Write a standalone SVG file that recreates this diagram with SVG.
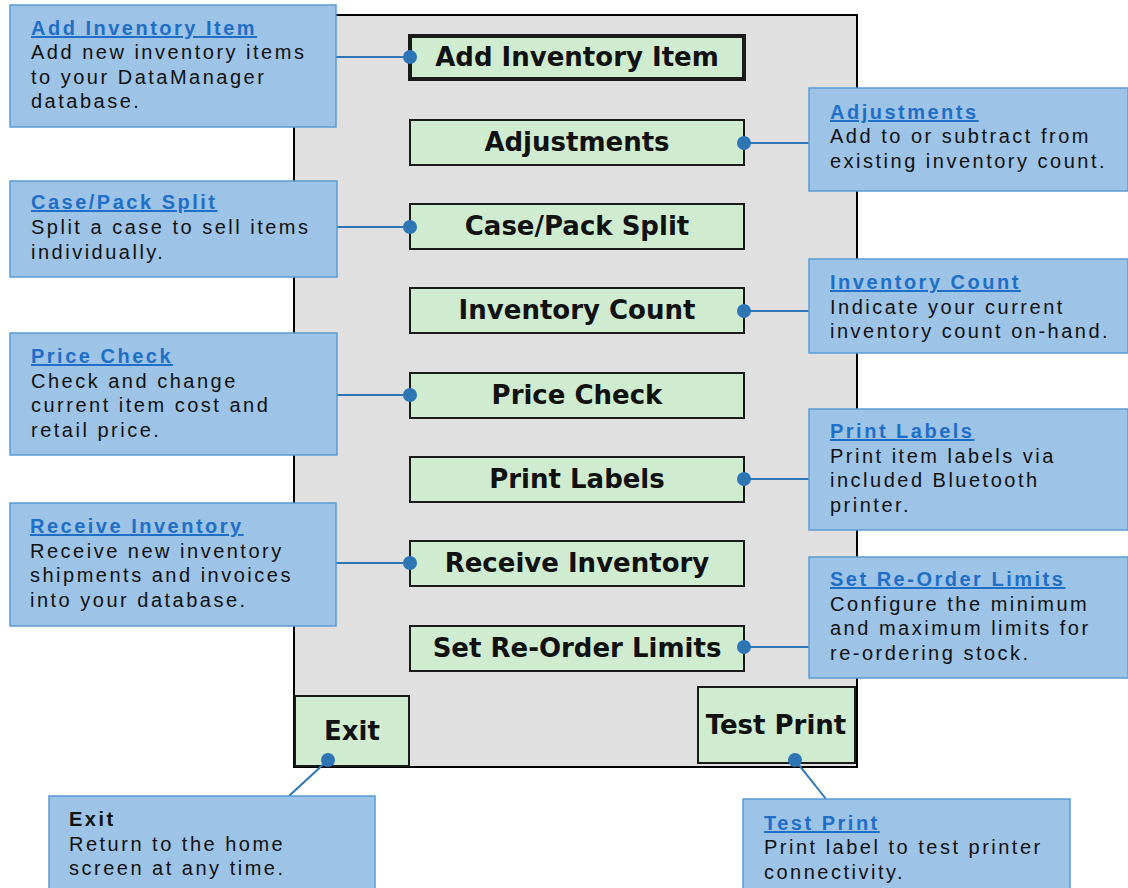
<svg xmlns="http://www.w3.org/2000/svg" width="1128" height="888" viewBox="0 0 1128 888">
<style>
.btn{fill:#d0ecd0;stroke:#1a1a1a;stroke-width:2}
.btnt{font-family:"DejaVu Sans",sans-serif;font-weight:bold;font-size:26px;fill:#111;text-anchor:middle}
.co{fill:#9dc3e6;stroke:#5b9bd5;stroke-width:1.5}
.tt{font-family:"Liberation Sans",Arial,sans-serif;font-weight:bold;font-size:20px;fill:#1f6fc6;letter-spacing:2.5px;text-decoration:underline}
.bt{font-family:"Liberation Sans",Arial,sans-serif;font-size:20px;fill:#111;letter-spacing:2.5px}
.ln{stroke:#2e75b6;stroke-width:2;fill:none}
.dot{fill:#2e75b6}
</style>
<rect width="1128" height="888" fill="#ffffff"/>
<g id="screen">
<rect x="294" y="15" width="563" height="752" fill="#e0e0e0" stroke="#000" stroke-width="2"/>
</g>
<g id="btn-add"><rect x="410" y="36" width="334" height="43" class="btn" style="stroke-width:4"/><text x="577" y="66" class="btnt">Add Inventory Item</text></g>
<g id="btn-adj"><rect x="410" y="120" width="334" height="45" class="btn"/><text x="577" y="151" class="btnt">Adjustments</text></g>
<g id="btn-case"><rect x="410" y="204" width="334" height="45" class="btn"/><text x="577" y="235" class="btnt">Case/Pack Split</text></g>
<g id="btn-count"><rect x="410" y="288" width="334" height="45" class="btn"/><text x="577" y="319" class="btnt">Inventory Count</text></g>
<g id="btn-price"><rect x="410" y="373" width="334" height="45" class="btn"/><text x="577" y="404" class="btnt">Price Check</text></g>
<g id="btn-labels"><rect x="410" y="457" width="334" height="45" class="btn"/><text x="577" y="488" class="btnt">Print Labels</text></g>
<g id="btn-receive"><rect x="410" y="541" width="334" height="45" class="btn"/><text x="577" y="572" class="btnt">Receive Inventory</text></g>
<g id="btn-reorder"><rect x="410" y="626" width="334" height="45" class="btn"/><text x="577" y="657" class="btnt">Set Re-Order Limits</text></g>
<g id="btn-exit"><rect x="295" y="696" width="114" height="70" class="btn"/><text x="352" y="740" class="btnt">Exit</text></g>
<g id="btn-test"><rect x="698" y="687" width="157" height="76" class="btn"/><text x="776" y="734" class="btnt">Test Print</text></g>

<g id="connectors">
<line x1="336" y1="57" x2="410" y2="57" class="ln"/><circle cx="410" cy="57" r="7" class="dot"/>
<line x1="744" y1="143" x2="809" y2="143" class="ln"/><circle cx="744" cy="143" r="7" class="dot"/>
<line x1="337" y1="227" x2="410" y2="227" class="ln"/><circle cx="410" cy="227" r="7" class="dot"/>
<line x1="744" y1="311" x2="809" y2="311" class="ln"/><circle cx="744" cy="311" r="7" class="dot"/>
<line x1="337" y1="395" x2="410" y2="395" class="ln"/><circle cx="410" cy="395" r="7" class="dot"/>
<line x1="744" y1="479" x2="809" y2="479" class="ln"/><circle cx="744" cy="479" r="7" class="dot"/>
<line x1="336" y1="563" x2="410" y2="563" class="ln"/><circle cx="410" cy="563" r="7" class="dot"/>
<line x1="744" y1="647" x2="809" y2="647" class="ln"/><circle cx="744" cy="647" r="7" class="dot"/>
<line x1="328" y1="760" x2="289" y2="796" class="ln"/><circle cx="328" cy="760" r="7" class="dot"/>
<line x1="795" y1="760" x2="826" y2="799" class="ln"/><circle cx="795" cy="760" r="7" class="dot"/>
</g>

<g id="co-add"><rect x="10" y="5" width="326" height="122" class="co"/>
<text x="31" y="35" class="tt">Add Inventory Item</text>
<text x="31" y="59" class="bt">Add new inventory items</text>
<text x="31" y="84" class="bt">to your DataManager</text>
<text x="31" y="108" class="bt">database.</text></g>
<g id="co-adj"><rect x="809" y="88" width="319" height="103" class="co"/>
<text x="830" y="119" class="tt">Adjustments</text>
<text x="830" y="143" class="bt">Add to or subtract from</text>
<text x="830" y="168" class="bt">existing inventory count.</text></g>
<g id="co-case"><rect x="10" y="181" width="327" height="96" class="co"/>
<text x="31" y="209" class="tt">Case/Pack Split</text>
<text x="31" y="234" class="bt">Split a case to sell items</text>
<text x="31" y="259" class="bt">individually.</text></g>
<g id="co-count"><rect x="809" y="259" width="319" height="94" class="co"/>
<text x="830" y="289" class="tt">Inventory Count</text>
<text x="830" y="314" class="bt">Indicate your current</text>
<text x="830" y="338" class="bt">inventory count on-hand.</text></g>
<g id="co-price"><rect x="10" y="333" width="327" height="122" class="co"/>
<text x="31" y="363" class="tt">Price Check</text>
<text x="31" y="388" class="bt">Check and change</text>
<text x="31" y="412" class="bt">current item cost and</text>
<text x="31" y="437" class="bt">retail price.</text></g>
<g id="co-labels"><rect x="809" y="409" width="319" height="121" class="co"/>
<text x="830" y="438" class="tt">Print Labels</text>
<text x="830" y="463" class="bt">Print item labels via</text>
<text x="830" y="487" class="bt">included Bluetooth</text>
<text x="830" y="512" class="bt">printer.</text></g>
<g id="co-receive"><rect x="10" y="503" width="326" height="123" class="co"/>
<text x="30" y="533" class="tt">Receive Inventory</text>
<text x="30" y="558" class="bt">Receive new inventory</text>
<text x="30" y="582" class="bt">shipments and invoices</text>
<text x="30" y="607" class="bt">into your database.</text></g>
<g id="co-reorder"><rect x="809" y="557" width="319" height="121" class="co"/>
<text x="830" y="586" class="tt">Set Re-Order Limits</text>
<text x="830" y="611" class="bt">Configure the minimum</text>
<text x="830" y="635" class="bt">and maximum limits for</text>
<text x="830" y="660" class="bt">re-ordering stock.</text></g>
<g id="co-exit"><rect x="49" y="796" width="326" height="100" class="co"/>
<text x="69" y="826" class="bt" font-weight="bold">Exit</text>
<text x="69" y="851" class="bt">Return to the home</text>
<text x="69" y="875" class="bt">screen at any time.</text></g>
<g id="co-test"><rect x="743" y="799" width="327" height="97" class="co"/>
<text x="764" y="830" class="tt">Test Print</text>
<text x="764" y="854" class="bt">Print label to test printer</text>
<text x="764" y="879" class="bt">connectivity.</text></g>
</svg>
